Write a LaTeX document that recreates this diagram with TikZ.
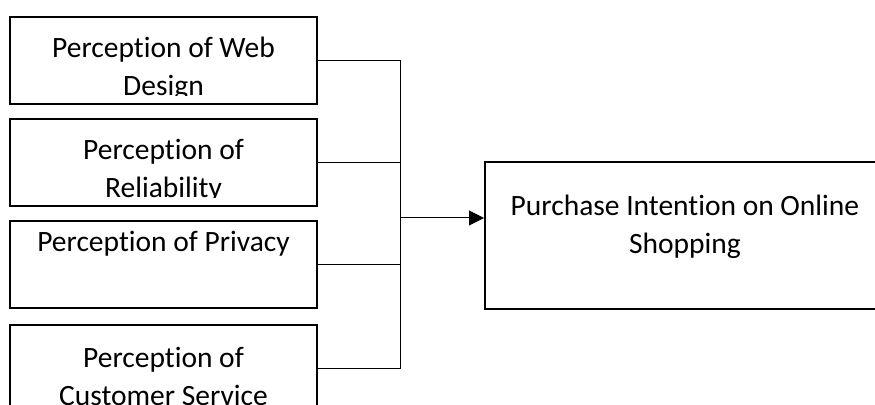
\documentclass[tikz,border=0pt]{standalone}
\usepackage{fontspec}
\setmainfont{Carlito}[Ligatures=NoCommon]
\usetikzlibrary{arrows.meta}

\begin{document}
\begin{tikzpicture}[x=0.5pt, y=-0.5pt,
      factor/.style={rectangle, draw, line width=1pt, minimum width=153.5pt, minimum height=43.5pt, inner sep=0pt},
      outcome/.style={factor, minimum width=200pt, minimum height=73.5pt},
      label/.style={anchor=base, align=center, inner sep=0pt, font=\fontsize{14.75}{19}\selectfont},
      textclip/.style={insert path={([yshift=4pt]path picture bounding box.south west) rectangle (path picture bounding box.north east)}},
      link/.style={draw, line width=0.5pt}
      ]
      \clip (0,0) rectangle (875,405);

      \node[factor, path picture={\clip[textclip]; \node[label, yshift=-39.5pt] (tweb) at (path picture bounding box.north) {Perception of Web\\Design};}] (web) at (163.5,60.5) {};
      \node[factor, path picture={\clip[textclip]; \node[label, yshift=-39.25pt] (trel) at (path picture bounding box.north) {Perception of\\Reliability};}] (rel) at (163.5,162.5) {};
      \node[factor, path picture={\node[label, yshift=-15pt] (tpriv) at (path picture bounding box.north) {Perception of Privacy};}] (priv) at (163.5,265) {};
      \node[factor, path picture={\node[label, yshift=-40.35pt] (tcust) at (path picture bounding box.north) {Perception of\\Customer Service};}] (cust) at (163.5,368.5) {};

      \node[outcome, path picture={\node[label, yshift=-46pt] (tintent) at (path picture bounding box.north) {Purchase Intention on Online\\Shopping};}] (intent) at (685,235.5) {};

      \coordinate (jn) at (400,218);
      \draw[link] (web.east) -- (web.east -| jn) -- (cust.east -| jn) -- (cust.east);
      \draw[link] (rel.east) -- (rel.east -| jn);
      \draw[link] (priv.east) -- (priv.east -| jn);
      \draw[link, -{Triangle[length=7.5pt, width=7.5pt]}] (jn) -- (jn -| intent.west);
    \end{tikzpicture}
\end{document}
